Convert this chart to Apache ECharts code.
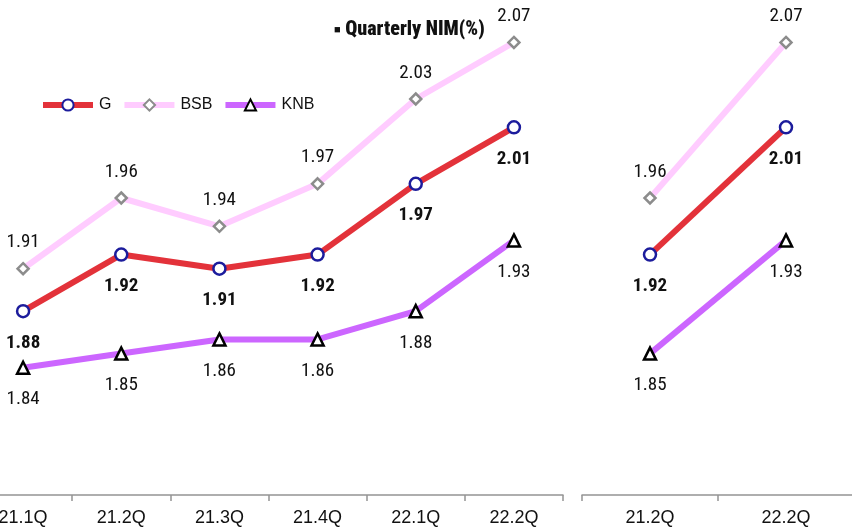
<!DOCTYPE html>
<html>
<head>
<meta charset="utf-8">
<script src="https://cdn.jsdelivr.net/npm/echarts@6/dist/echarts.min.js"></script>
<style>
  html, body { margin: 0; padding: 0; background: #ffffff; }
  #chart { width: 852px; height: 532px; }
</style>
</head>
<body>
<div id="chart"></div>
<script>
// Quarterly net interest margin, full series and the two-quarter comparison
const quarters = ['21.1Q', '21.2Q', '21.3Q', '21.4Q', '22.1Q', '22.2Q'];
const gNim = [1.88, 1.92, 1.91, 1.92, 1.97, 2.01];
const bsbNim = [1.91, 1.96, 1.94, 1.97, 2.03, 2.07];
const knbNim = [1.84, 1.85, 1.86, 1.86, 1.88, 1.93];

const compareQuarters = ['21.2Q', '22.2Q'];
const gCompare = [1.92, 2.01];
const bsbCompare = [1.96, 2.07];
const knbCompare = [1.85, 1.93];

const plain = "'Liberation Sans', Arial, sans-serif";
const narrow = "Roboto, 'Liberation Sans', sans-serif";

const chart = echarts.init(document.getElementById('chart'));

const styles = {
  G: {
    color: '#e3323a', symbol: 'circle', size: 12, border: '#1c1c9c',
    label: { position: 'bottom', distance: 15, weight: 'bold condensed' }
  },
  BSB: {
    color: '#ffccff', symbol: 'diamond', size: 11, border: '#8c8c8c',
    label: { position: 'top', distance: 10, weight: 'normal condensed' }
  },
  KNB: {
    color: '#cc66ff', symbol: 'triangle', size: 12, border: '#000000',
    label: { position: 'bottom', distance: 15, weight: 'normal condensed' }
  }
};

function makeSeries(name, data, axisIndex) {
  const s = styles[name];
  return {
    name: name,
    type: 'line',
    xAxisIndex: axisIndex,
    yAxisIndex: axisIndex,
    data: data,
    symbol: s.symbol,
    symbolSize: s.size,
    showAllSymbol: true,
    z: name === 'BSB' ? 1 : (name === 'G' ? 3 : 2),
    lineStyle: { color: s.color, width: 6 },
    itemStyle: { color: '#ffffff', borderColor: s.border, borderWidth: 2.5 },
    label: {
      show: true,
      position: s.label.position,
      distance: s.label.distance,
      fontFamily: narrow,
      fontSize: 19,
      fontWeight: s.label.weight,
      color: '#111111',
      formatter: p => p.value.toFixed(2)
    },
    emphasis: { disabled: true }
  };
}

function xAxisFor(data, gridIndex) {
  return {
    type: 'category',
    gridIndex: gridIndex,
    data: data,
    boundaryGap: true,
    axisLine: { show: true, lineStyle: { color: '#949494', width: 1.5 } },
    axisTick: { show: true, length: 6, inside: false, lineStyle: { color: '#949494', width: 1.5 } },
    axisLabel: { fontFamily: plain, fontSize: 18, color: '#111111', margin: 14 }
  };
}

function yAxisFor(gridIndex) {
  return {
    type: 'value',
    gridIndex: gridIndex,
    min: 1.75,
    max: 2.10,
    show: false,
    splitLine: { show: false }
  };
}

chart.setOption({
  animation: false,
  backgroundColor: '#ffffff',
  title: {
    text: '{sq|■} Quarterly NIM(%)',
    left: 334,
    top: 20,
    padding: 0,
    textStyle: {
      fontFamily: narrow, fontSize: 20, fontWeight: '900 condensed', color: '#111111',
      rich: { sq: { fontSize: 11, fontFamily: plain, color: '#111111' } }
    }
  },
  legend: {
    left: 40,
    top: 97,
    padding: 0,
    itemWidth: 50,
    itemHeight: 14,
    itemGap: 10,
    data: ['G', 'BSB', 'KNB'],
    lineStyle: { width: 6 },
    textStyle: { fontFamily: plain, fontSize: 16, color: '#111111', padding: [0, 0, 0, 1] }
  },
  grid: [
    { left: -26, top: 0, width: 589, height: 495, outerBoundsMode: 'none' },
    { left: 582, top: 0, width: 272, height: 495, outerBoundsMode: 'none' }
  ],
  xAxis: [xAxisFor(quarters, 0), xAxisFor(compareQuarters, 1)],
  yAxis: [yAxisFor(0), yAxisFor(1)],
  series: [
    makeSeries('BSB', bsbNim, 0),
    makeSeries('G', gNim, 0),
    makeSeries('KNB', knbNim, 0),
    makeSeries('BSB', bsbCompare, 1),
    makeSeries('G', gCompare, 1),
    makeSeries('KNB', knbCompare, 1)
  ]
});
</script>
</body>
</html>
